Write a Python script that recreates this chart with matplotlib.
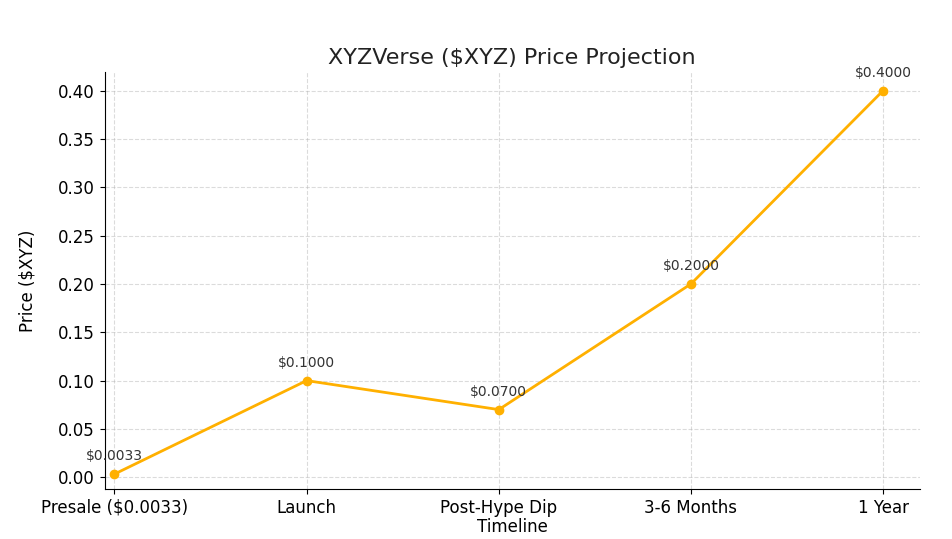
import matplotlib.pyplot as plt

stages = ['Presale ($0.0033)', 'Launch', 'Post-Hype Dip', '3-6 Months', '1 Year']
prices = [0.0033, 0.1, 0.07, 0.2, 0.4]

fig = plt.figure(figsize=(9.53, 5.39), dpi=100)
ax = fig.add_axes([0.110, 0.093, 0.855, 0.773])
x = range(len(stages))
ax.plot(x, prices, 'o-', color='#FFB000', linewidth=2, markersize=6)
for xi, p in zip(x, prices):
    ax.annotate(f'${p:.4f}', (xi, p), textcoords='offset points', xytext=(0, 10),
                ha='center', fontsize=10, color='#333333')

ax.set_xticks(list(x))
ax.set_xticklabels(stages, fontsize=12)
ax.tick_params(axis='y', labelsize=12)
ax.set_xlim(-0.05, 4.19)
ax.set_ylim(-0.012, 0.419)
ax.set_title('XYZVerse ($XYZ) Price Projection', fontsize=16, color='#222222')
ax.set_xlabel('Timeline', fontsize=12, labelpad=1)
ax.set_ylabel('Price ($XYZ)', fontsize=12, labelpad=16)
ax.grid(True, linestyle='--', alpha=0.45)
ax.spines['top'].set_visible(False)
ax.spines['right'].set_visible(False)
plt.savefig('out.png', dpi=100)
